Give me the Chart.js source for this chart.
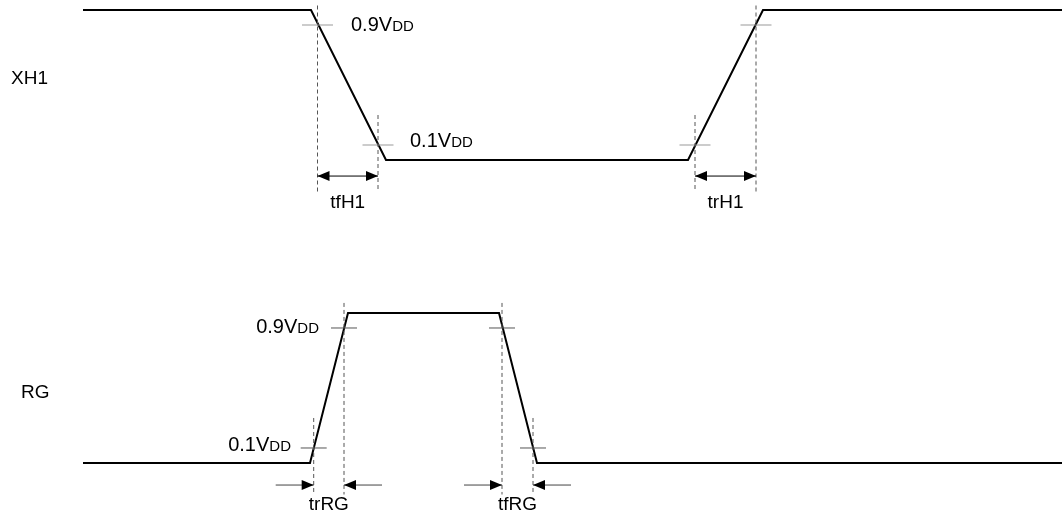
<!DOCTYPE html>
<html>
<head>
<meta charset="utf-8">
<script src="https://cdn.jsdelivr.net/npm/chart.js@4.4.0/dist/chart.umd.min.js"></script>
<style>
html, body { margin: 0; padding: 0; background: #fff; }
#wrap { width: 1062px; height: 527px; }
</style>
</head>
<body>
<div id="wrap"><canvas id="timing"></canvas></div>
<script>
// time in arbitrary units, level as a fraction of VDD
const xh1Times = [83, 311, 386, 688, 763, 1062];
const xh1Levels = [1, 1, 0, 0, 1, 1];
const rgTimes = [83, 310, 348, 499, 537, 1062];
const rgLevels = [0, 0, 1, 1, 0, 0];

// where each edge crosses 90% and 10%
const xh1Cross90 = [317.5, 756];
const xh1Cross10 = [378, 695];
const rgCross90 = [344, 502];
const rgCross10 = [313.7, 533];

// timing parameters: [name, start, end]
const xh1Params = [["tfH1", 317.5, 378], ["trH1", 695, 756]];
const rgParams = [["trRG", 313.7, 344], ["tfRG", 502, 533]];

const xh1Base = 2.02;
const rgBase = 0;

function wave(times, levels, base) {
  return times.map((t, i) => ({ x: t, y: levels[i] + base }));
}

// dashed vertical guides, broken by null points
function guides(c90, c10, base, top90) {
  const pts = [];
  c90.forEach(t => { pts.push({ x: t, y: base + top90 }, { x: t, y: base - 0.21 }, { x: t, y: null }); });
  c10.forEach(t => { pts.push({ x: t, y: base + 0.3 }, { x: t, y: base - 0.21 }, { x: t, y: null }); });
  return pts;
}

function ticks(c90, c10, base, half) {
  const pts = [];
  c90.forEach(t => { pts.push({ x: t - half, y: base + 0.9 }, { x: t + half, y: base + 0.9 }, { x: t, y: null }); });
  c10.forEach(t => { pts.push({ x: t - half, y: base + 0.1 }, { x: t + half, y: base + 0.1 }, { x: t, y: null }); });
  return pts;
}

const lineDefaults = { showLine: true, pointRadius: 0, tension: 0, spanGaps: false, fill: false };

const FONT = "'Liberation Sans', Arial, sans-serif";
const BIG = "19px " + FONT;
const LVL = "20px " + FONT;
const SUB = "15px " + FONT;

function arrowHead(ctx, x, y, dir) {
  ctx.beginPath();
  ctx.moveTo(x, y);
  ctx.lineTo(x - dir * 12, y - 5);
  ctx.lineTo(x - dir * 12, y + 5);
  ctx.closePath();
  ctx.fill();
}

function vdd(ctx, text, x, y, align) {
  ctx.textBaseline = "alphabetic";
  ctx.textAlign = "left";
  ctx.font = LVL;
  const w1 = ctx.measureText(text).width;
  ctx.font = SUB;
  const w2 = ctx.measureText("DD").width;
  const x0 = align === "right" ? x - w1 - w2 : x;
  ctx.font = LVL;
  ctx.fillText(text, x0, y);
  ctx.font = SUB;
  ctx.fillText("DD", x0 + w1, y);
}

const annotations = {
  id: "annotations",
  afterDatasetsDraw(chart) {
    const ctx = chart.ctx;
    const xs = chart.scales.x, ys = chart.scales.y;
    const px = v => xs.getPixelForValue(v);
    const py = v => ys.getPixelForValue(v);
    ctx.save();
    ctx.fillStyle = "#000";
    ctx.strokeStyle = "#000";
    ctx.lineWidth = 1;
    ctx.textBaseline = "alphabetic";

    // XH1: double-headed arrows between guides
    xh1Params.forEach(([name, a, b]) => {
      const y = py(xh1Base - 0.107);
      ctx.beginPath();
      ctx.moveTo(px(a), y);
      ctx.lineTo(px(b), y);
      ctx.stroke();
      arrowHead(ctx, px(a), y, -1);
      arrowHead(ctx, px(b), y, 1);
      ctx.font = BIG;
      ctx.textAlign = "center";
      ctx.fillText(name, px((a + b) / 2), py(xh1Base - 0.318));
    });

    // RG: arrows pointing inward from outside
    rgParams.forEach(([name, a, b]) => {
      const y = py(rgBase - 0.147);
      ctx.strokeStyle = "#444";
      ctx.beginPath();
      ctx.moveTo(px(a - 38), y);
      ctx.lineTo(px(a), y);
      ctx.moveTo(px(b + 38), y);
      ctx.lineTo(px(b), y);
      ctx.stroke();
      arrowHead(ctx, px(a), y, 1);
      arrowHead(ctx, px(b), y, -1);
      ctx.font = BIG;
      ctx.textAlign = "center";
      ctx.fillText(name, px((a + b) / 2), py(rgBase - 0.313));
    });

    // level labels
    vdd(ctx, "0.9V", px(351), py(xh1Base + 0.86), "left");
    vdd(ctx, "0.1V", px(410), py(xh1Base + 0.089), "left");
    vdd(ctx, "0.9V", px(319), py(rgBase + 0.869), "right");
    vdd(ctx, "0.1V", px(291), py(rgBase + 0.08), "right");

    // signal names
    ctx.font = BIG;
    ctx.textAlign = "left";
    ctx.fillText("XH1", px(11), py(xh1Base + 0.507));
    ctx.fillText("RG", px(21), py(rgBase + 0.435));
    ctx.restore();
  }
};

new Chart(document.getElementById("timing").getContext("2d"), {
  type: "scatter",
  data: {
    datasets: [
      { ...lineDefaults, label: "XH1 guides", data: guides(xh1Cross90, xh1Cross10, xh1Base, 1.03), borderColor: "#555", borderWidth: 1, borderDash: [4, 3] },
      { ...lineDefaults, label: "RG guides", data: guides(rgCross90, rgCross10, rgBase, 1.067), borderColor: "#555", borderWidth: 1, borderDash: [4, 3] },
      { ...lineDefaults, label: "XH1 ticks", data: ticks(xh1Cross90, xh1Cross10, xh1Base, 15.5), borderColor: "#999", borderWidth: 1 },
      { ...lineDefaults, label: "RG ticks", data: ticks(rgCross90, rgCross10, rgBase, 13), borderColor: "#555", borderWidth: 1 },
      { ...lineDefaults, label: "XH1", data: wave(xh1Times, xh1Levels, xh1Base), borderColor: "#000", borderWidth: 2 },
      { ...lineDefaults, label: "RG", data: wave(rgTimes, rgLevels, rgBase), borderColor: "#000", borderWidth: 2 }
    ]
  },
  options: {
    responsive: true,
    maintainAspectRatio: false,
    animation: false,
    events: [],
    layout: { padding: 0 },
    plugins: { legend: { display: false }, tooltip: { enabled: false } },
    scales: {
      x: { type: "linear", min: 0, max: 1062, display: false },
      y: { type: "linear", min: -0.4267, max: 3.0867, display: false }
    }
  },
  plugins: [annotations]
});
</script>
</body>
</html>
